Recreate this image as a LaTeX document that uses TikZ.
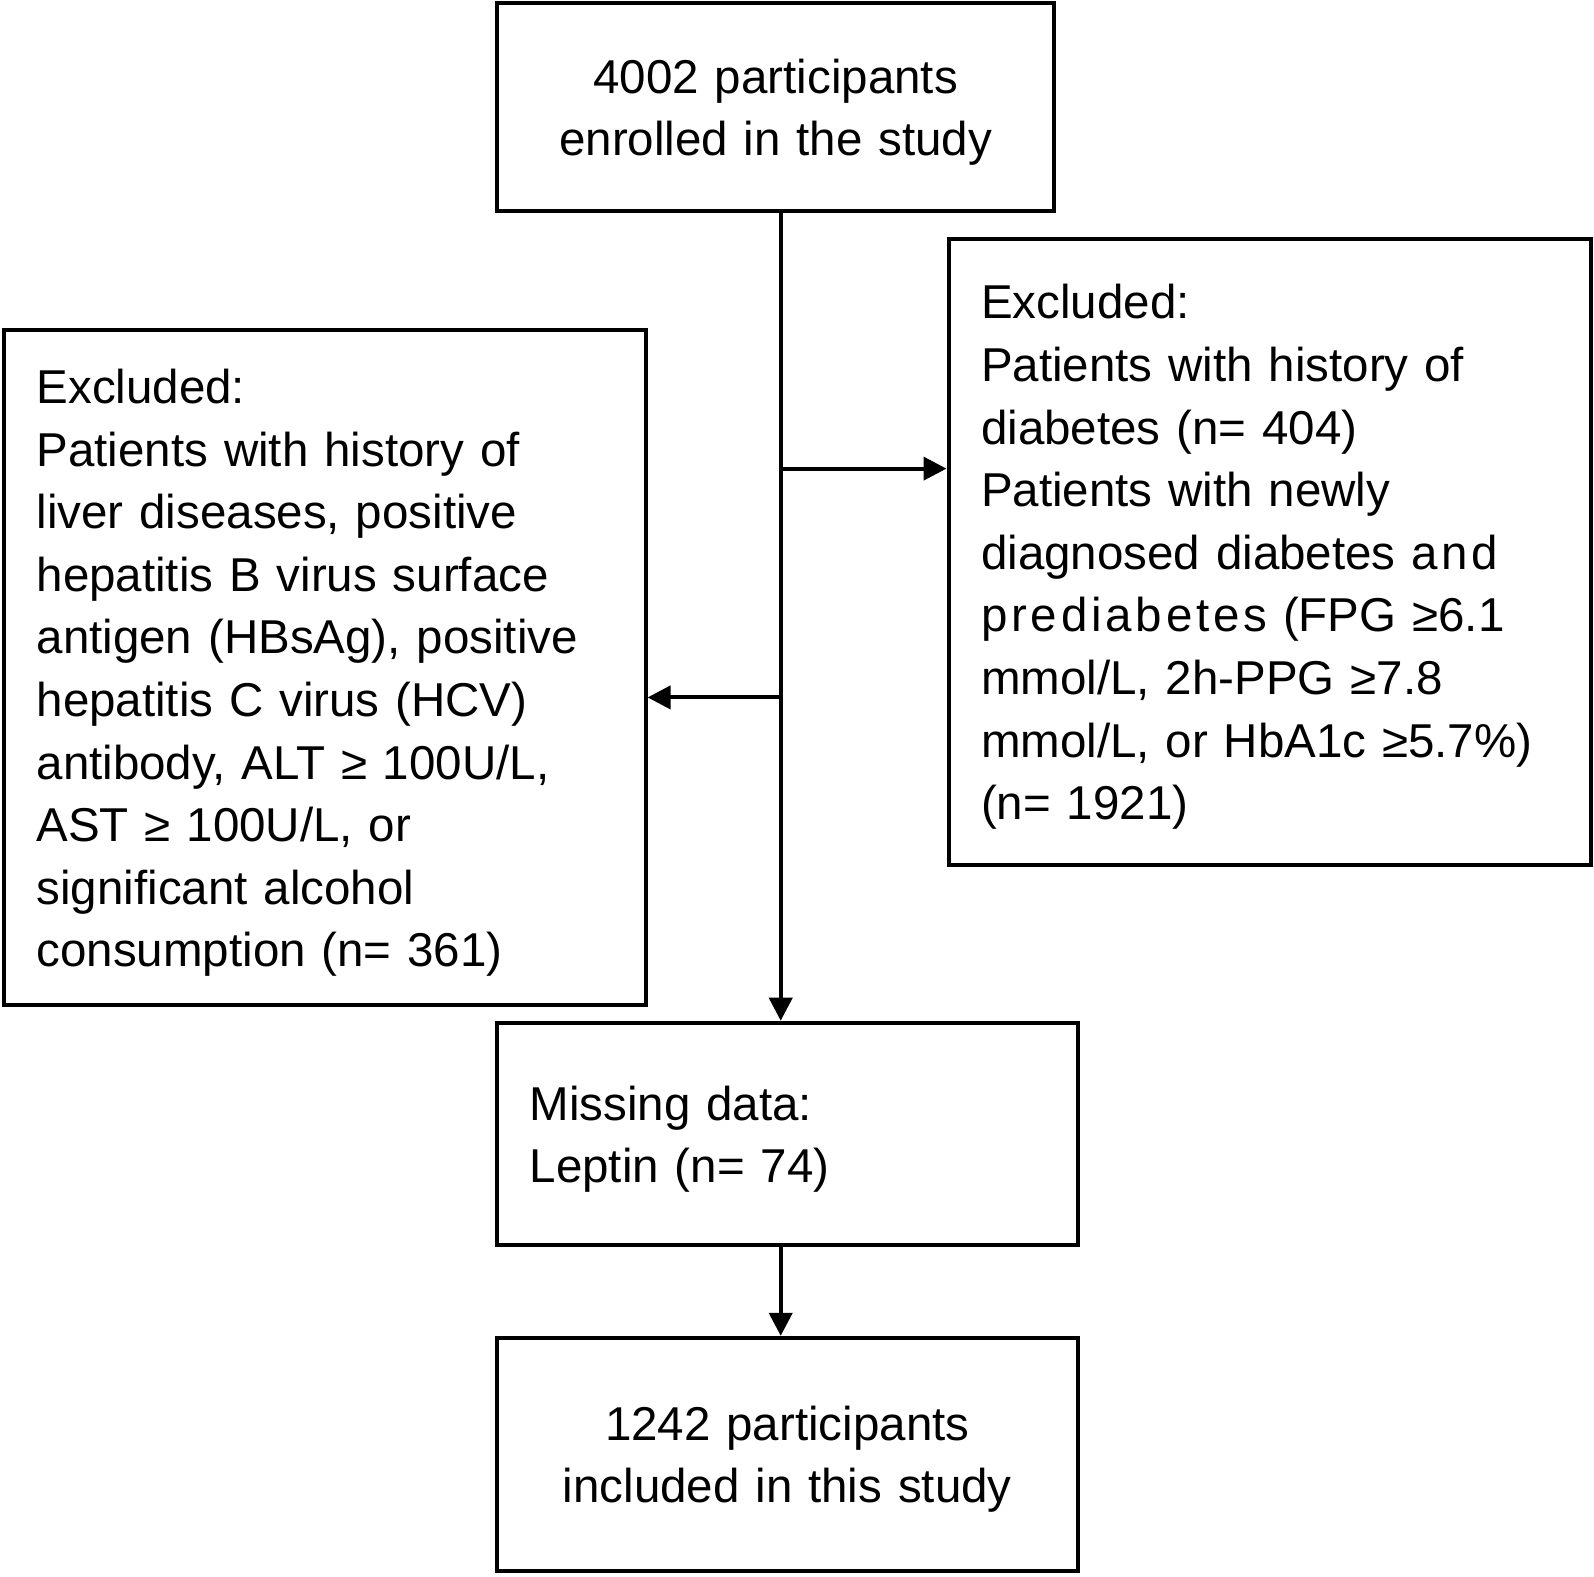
\documentclass[tikz,border=0pt]{standalone}
\usepackage{fontspec}
\setmainfont{Liberation Sans}
\usetikzlibrary{arrows.meta,positioning}

\begin{document}
\begin{tikzpicture}
  [x=0.5pt,y=-0.5pt,
  box/.style={draw,line width=2pt,rectangle,inner xsep=16.3pt,inner ysep=0pt,
    font=\fontsize{23.75}{31.3}\selectfont,
    execute at begin node={\rule{0pt}{22.3pt}}},
  mid/.style={box,align=center},
  list/.style={box,align=left},
  arr/.style={line width=2pt,-{Triangle[length=11.5pt,width=11.5pt]}}]

  \useasboundingbox (0,0) rectangle (1594,1576);

  \node[mid,text width=245.9pt,minimum height=104.2pt] (enrol) at (775.7,107.2)
    {4002 participants\\enrolled in the study};

  \node[list,text width=288.6pt,minimum height=313pt] (excl2) at (1269.7,552)
    {Excluded:\\
     Patients with history of\\
     diabetes (n= 404)\\
     Patients with newly\\
     diagnosed diabetes {\addfontfeature{LetterSpace=8}and}\\
     {\addfontfeature{LetterSpace=8}prediabetes} (FPG ≥6.1\\
     mmol/L, 2h-PPG ≥7.8\\
     mmol/L, or HbA1c ≥5.7\%)\\
     (n= 1921)};

  \node[list,text width=288.2pt,minimum height=337.5pt] (excl1) at (324.8,667.9)
    {Excluded:\\
     Patients with history of\\
     liver diseases, positive\\
     hepatitis B virus surface\\
     antigen (HBsAg), positive\\
     hepatitis C virus (HCV)\\
     antibody, ALT ≥ 100U/L,\\
     AST ≥ 100U/L, or\\
     significant alcohol\\
     consumption (n= 361)};

  \node[list,text width=257.6pt,minimum height=111.3pt] (miss) at (787.3,1134)
    {Missing data:\\Leptin (n= 74)};

  \node[mid,text width=257.6pt,minimum height=116.4pt] (final) at (787.3,1454.2)
    {1242 participants\\included in this study};

  % main line and branches
  \coordinate (trunk) at (780.7,211.4);
  \coordinate (jr) at (780.7,468.6);
  \coordinate (jl) at (780.7,697.4);

  \draw[arr] (enrol.south -| trunk) -- (miss.north -| trunk);
  \draw[arr] (jr) -- (jr -| excl2.west);
  \draw[arr] (jl) -- (jl -| excl1.east);
  \draw[arr] (miss.south -| trunk) -- (final.north -| trunk);

\end{tikzpicture}
\end{document}
